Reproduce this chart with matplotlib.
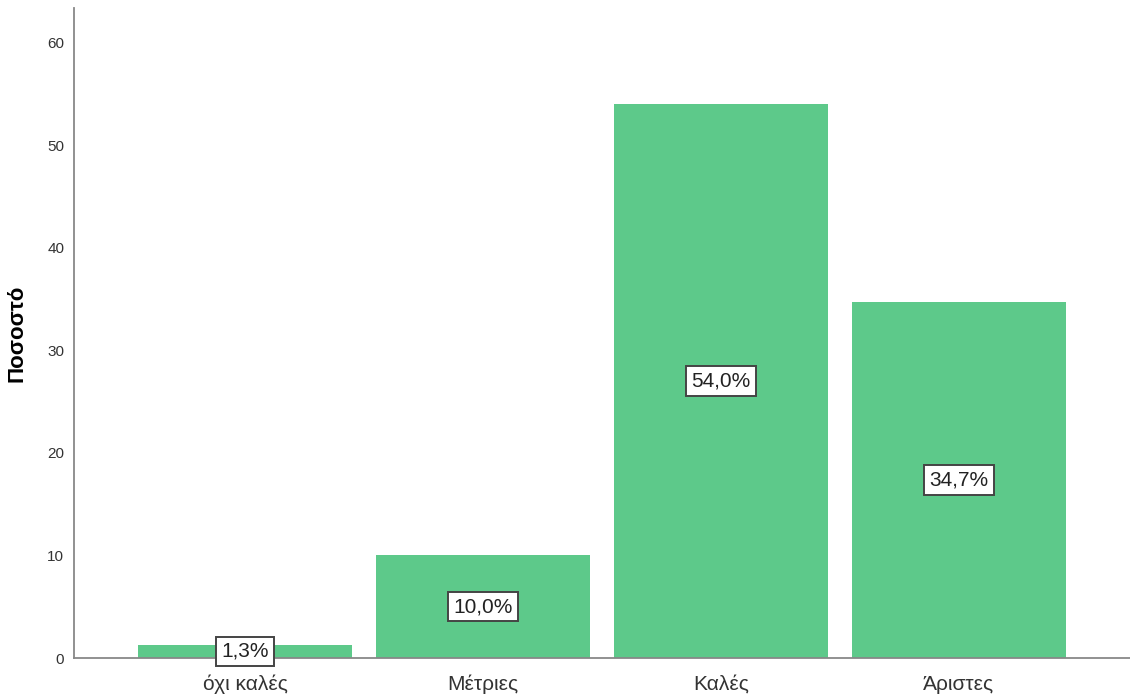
import matplotlib
matplotlib.use("Agg")
import matplotlib.pyplot as plt

categories = ["όχι καλές", "Μέτριες", "Καλές", "Άριστες"]
values = [1.3, 10.0, 54.0, 34.7]
labels = ["1,3%", "10,0%", "54,0%", "34,7%"]
yticks = [0, 10, 20, 30, 40, 50, 60]

plt.rcParams['font.family'] = ['Liberation Sans Narrow', 'Liberation Sans', 'DejaVu Sans']

fig = plt.figure(figsize=(11.3, 7.0), dpi=100)
ax = fig.add_axes([74/1130, 42/700, 1056/1130, 650/700])

x = list(range(len(categories)))
ax.bar(x, values, width=0.9, color="#5DC98A", zorder=2)
for xi, v, lab in zip(x, values, labels):
    ax.text(xi, v/2, lab, ha="center", va="center", fontsize=15, color="#222222",
            bbox=dict(boxstyle="square,pad=0.25", facecolor="white", edgecolor="#444444", linewidth=1.4),
            zorder=3)

ax.set_xlim(-0.72, 3.72)
ax.set_ylim(0, 63.4)
ax.set_xticks(x)
ax.set_xticklabels(categories, fontsize=15, color="#333333")
ax.set_yticks(yticks)
ax.set_yticklabels([str(t) for t in yticks], fontsize=11, color="#333333")
ax.tick_params(axis='y', length=0, pad=7)
ax.tick_params(axis='x', length=0, pad=12)
for s in ["top", "right"]:
    ax.spines[s].set_visible(False)
for s in ["left", "bottom"]:
    ax.spines[s].set_color("#888888")
    ax.spines[s].set_linewidth(1.3)
ax.set_ylabel("Ποσοστό", fontsize=16, fontweight="bold", family=["Liberation Sans", "DejaVu Sans"], labelpad=14)

fig.savefig("out.png", dpi=100)
